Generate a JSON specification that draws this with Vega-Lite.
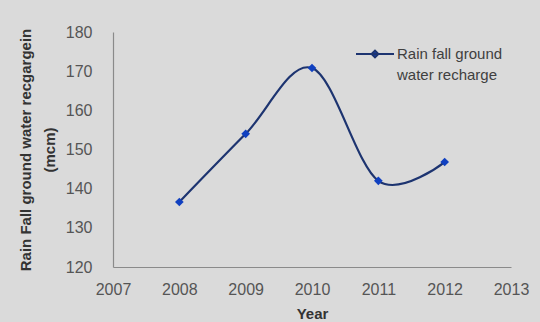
{
  "$schema": "https://vega.github.io/schema/vega-lite/v6.json",
  "width": 398,
  "height": 235,
  "autosize": {"type": "none"},
  "padding": {"left": 113, "top": 32, "right": 29, "bottom": 55},
  "background": "#dadada",
  "config": {
    "view": {"stroke": null},
    "font": "Liberation Sans",
    "axis": {
      "grid": false,
      "ticks": false,
      "domainColor": "#8a8a8a",
      "domainWidth": 1.2,
      "labelFont": "Liberation Sans",
      "labelFontSize": 16,
      "labelColor": "#555555",
      "labelFlush": false,
      "titleFont": "Liberation Sans",
      "titleFontWeight": "bold",
      "titleColor": "#333333"
    }
  },
  "data": {
    "values": [
      {"year": 2008, "value": 136.6, "series": "Rain fall ground water recharge"},
      {"year": 2009, "value": 154.0, "series": "Rain fall ground water recharge"},
      {"year": 2010, "value": 170.8, "series": "Rain fall ground water recharge"},
      {"year": 2011, "value": 142.0, "series": "Rain fall ground water recharge"},
      {"year": 2012, "value": 146.8, "series": "Rain fall ground water recharge"}
    ]
  },
  "encoding": {
    "x": {
      "field": "year",
      "type": "quantitative",
      "scale": {"domain": [2007, 2013], "nice": false, "zero": false},
      "axis": {
        "values": [2007, 2008, 2009, 2010, 2011, 2012, 2013],
        "format": "d",
        "labelPadding": 14,
        "title": "Year",
        "titleFontSize": 15,
        "titlePadding": 9
      }
    },
    "y": {
      "field": "value",
      "type": "quantitative",
      "scale": {"domain": [120, 180], "nice": false, "zero": false},
      "axis": {
        "values": [120, 130, 140, 150, 160, 170, 180],
        "labelPadding": 21,
        "title": ["Rain Fall ground water recgargein", "(mcm)"],
        "titleFontSize": 15,
        "titleLineHeight": 24,
        "titlePadding": 8
      }
    }
  },
  "layer": [
    {
      "mark": {"type": "line", "interpolate": "cardinal", "strokeWidth": 2.2},
      "encoding": {
        "color": {
          "field": "series",
          "type": "nominal",
          "scale": {"range": ["#1d3470"]},
          "legend": {
            "title": null,
            "orient": "none",
            "legendX": 242,
            "legendY": 2,
            "symbolType": "M-1,0H1M-0.18,0L0,-0.18L0.18,0L0,0.18Z",
            "symbolSize": 1444,
            "symbolStrokeWidth": 2,
            "symbolFillColor": "#1040c0",
            "symbolStrokeColor": "#1d3470",
            "labelExpr": "['Rain fall ground', 'water recharge']",
            "labelFont": "Liberation Sans",
            "labelFontSize": 15,
            "labelColor": "#404040",
            "labelLimit": 200,
            "labelOffset": 2,
            "encode": {"labels": {"update": {"lineHeight": {"value": 21}}}}
          }
        }
      }
    },
    {
      "mark": {"type": "point", "shape": "diamond", "filled": true, "size": 75, "color": "#1040c0", "opacity": 1}
    }
  ]
}
